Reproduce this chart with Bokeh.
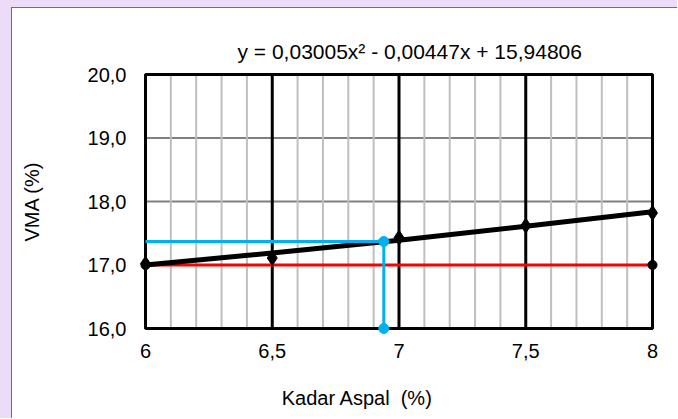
from bokeh.plotting import figure
from bokeh.layouts import column
from bokeh.models import FixedTicker, Range1d, Title
from bokeh.embed import file_html
from bokeh.resources import INLINE

# ---- data ----
kadar_aspal = [6, 6.5, 7, 7.5, 8]
vma = [17.02, 17.11, 17.43, 17.62, 17.82]

# polynomial trendline as drawn (read at the data x positions)
trend_x = [6, 6.5, 7, 7.5, 8]
trend_y = [17.00, 17.19, 17.39, 17.61, 17.84]

# VMA minimum specification line
spec_x = [6, 8]
spec_y = [17.0, 17.0]

# optimum asphalt content read-off (blue)
opt_x = [6, 6.94, 6.94]
opt_y = [17.37, 17.37, 16.0]

x_ticks = [6, 6.5, 7, 7.5, 8]
x_tick_labels = ["6", "6,5", "7", "7,5", "8"]
y_ticks = [16, 17, 18, 19, 20]
y_tick_labels = ["16,0", "17,0", "18,0", "19,0", "20,0"]
x_minor = [round(6 + 0.1 * i, 1) for i in range(1, 20) if i % 5 != 0]
y_inner = [17, 18, 19]

equation = "y = 0,03005x\u00b2 - 0,00447x + 15,94806"
x_title = "Kadar Aspal \u00a0(%)"
y_title = "VMA (%)"

FONT = "Liberation Sans"
FS = "20px"

X0, X1 = x_ticks[0], x_ticks[-1]
Y0, Y1 = y_ticks[0], y_ticks[-1]
# 10 px of breathing room around the plot box so markers are not cut
PADX = 10 / 253.5
PADY = 10 / 63.5

p = figure(width=666, height=411,
           min_border_left=123, min_border_right=16,
           min_border_top=56, min_border_bottom=81,
           x_range=Range1d(X0 - PADX, X1 + PADX),
           y_range=Range1d(Y0 - PADY, Y1 + PADY),
           output_backend="svg", toolbar_location=None)

p.background_fill_color = "white"
p.border_fill_color = "white"
p.outline_line_color = None
p.xgrid.visible = False
p.ygrid.visible = False
p.styles = {"border-left": "1px solid #707070", "border-top": "1px solid #707070"}

# gridlines
p.segment(x0=X0, x1=X1, y0=y_inner, y1=y_inner, line_color="#808080", line_width=2)
p.segment(x0=x_minor, x1=x_minor, y0=Y0, y1=Y1, line_color="#bfbfbf", line_width=2)
p.segment(x0=x_ticks, x1=x_ticks, y0=Y0, y1=Y1, line_color="black", line_width=3)
p.quad(left=X0, right=X1, bottom=Y0, top=Y1, fill_color=None,
       line_color="black", line_width=3)

# axes
for ax in (p.xaxis[0], p.yaxis[0]):
    ax.axis_line_color = None
    ax.major_tick_line_color = None
    ax.minor_tick_line_color = None
    ax.major_tick_out = 0
    ax.major_tick_in = 0
    ax.major_label_text_font = FONT
    ax.major_label_text_font_size = FS
    ax.major_label_text_color = "black"
    ax.axis_label_text_font = FONT
    ax.axis_label_text_font_size = FS
    ax.axis_label_text_font_style = "normal"
    ax.axis_label_text_color = "black"

p.xaxis.ticker = FixedTicker(ticks=x_ticks)
p.xaxis.major_label_overrides = dict(zip(x_ticks, x_tick_labels))
p.xaxis.major_label_standoff = 5
# the reference title sits left of the plot centre: trailing no-break spaces shift it
p.xaxis.axis_label = x_title + "\u00a0" * 15
p.xaxis.axis_label_standoff = 26
p.yaxis.ticker = FixedTicker(ticks=y_ticks)
p.yaxis.major_label_overrides = dict(zip(y_ticks, y_tick_labels))
p.yaxis.major_label_standoff = 9
p.yaxis.axis_label = y_title
p.yaxis.axis_label_standoff = 42

# series
p.line(spec_x, spec_y, line_color="#ff0000", line_width=3)
p.scatter(spec_x, spec_y, size=9, color="black")

p.line(trend_x, trend_y, line_color="black", line_width=5)
p.scatter(kadar_aspal, vma, marker="diamond", size=15, color="black")

p.line(opt_x, opt_y, line_color="#00b0f0", line_width=3)
p.scatter(opt_x[1:], opt_y[1:], size=10, color="#00b0f0")

# trendline equation
p.add_layout(Title(text=equation, align="left", offset=102, standoff=4,
                   text_font=FONT, text_font_size="21px", text_font_style="normal",
                   text_color="black"), "above")

page = column(p, styles={
    "background-color": "white",
    "border-left": "11px solid #ecdcfa",
    "border-top": "7px solid #ecdcfa"})

open("out.html", "w").write(file_html(page, INLINE))
